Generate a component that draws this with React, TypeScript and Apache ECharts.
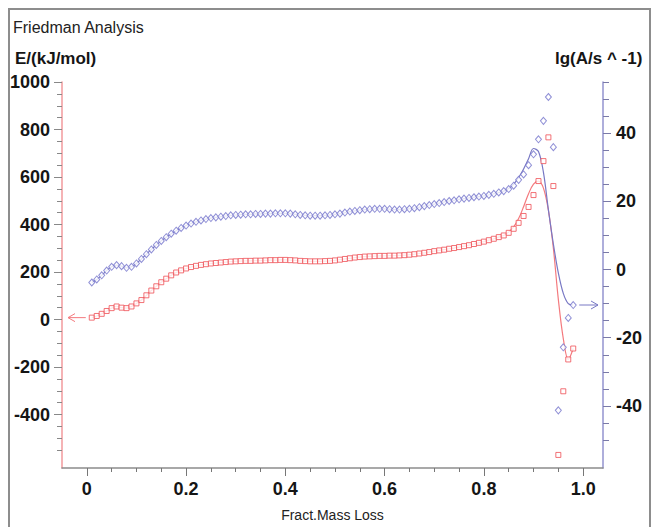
import React, { useEffect, useRef } from "react";
import * as echarts from "echarts";

// Fractional mass loss (x)
const fraction = [
  0.01, 0.02, 0.03, 0.04, 0.05, 0.06, 0.07, 0.08, 0.09, 0.1,
  0.11, 0.12, 0.13, 0.14, 0.15, 0.16, 0.17, 0.18, 0.19, 0.2,
  0.21, 0.22, 0.23, 0.24, 0.25, 0.26, 0.27, 0.28, 0.29, 0.3,
  0.31, 0.32, 0.33, 0.34, 0.35, 0.36, 0.37, 0.38, 0.39, 0.4,
  0.41, 0.42, 0.43, 0.44, 0.45, 0.46, 0.47, 0.48, 0.49, 0.5,
  0.51, 0.52, 0.53, 0.54, 0.55, 0.56, 0.57, 0.58, 0.59, 0.6,
  0.61, 0.62, 0.63, 0.64, 0.65, 0.66, 0.67, 0.68, 0.69, 0.7,
  0.71, 0.72, 0.73, 0.74, 0.75, 0.76, 0.77, 0.78, 0.79, 0.8,
  0.81, 0.82, 0.83, 0.84, 0.85, 0.86, 0.87, 0.88, 0.89, 0.9,
  0.91, 0.92, 0.93, 0.94, 0.95, 0.96, 0.97, 0.98,
];

// Activation energy E/(kJ/mol) — red squares, left axis
const activationEnergy = [
  8, 15, 24, 36, 48, 55, 50, 48, 55, 68,
  82, 102, 122, 140, 157, 172, 186, 198, 207, 215,
  221, 226, 230, 233, 236, 238, 240, 242, 244, 245,
  246, 247, 247, 248, 248, 249, 250, 250, 251, 251,
  250, 249, 247, 246, 245, 245, 245, 246, 247, 249,
  252, 255, 258, 261, 263, 265, 266, 267, 268, 268,
  269, 269, 270, 271, 273, 275, 278, 281, 284, 288,
  291, 294, 298, 301, 305, 309, 313, 318, 323, 328,
  334, 340, 347, 354, 365, 382, 407, 436, 474, 524,
  583, 667, 767, 562, -570, -302, -168, -122,
];

// lg(A/s^-1) — blue diamonds, right axis
const lgA = [
  -3.8, -2.9, -1.7, -0.3, 0.8, 1.3, 1.0, 0.5, 0.8, 1.8,
  3.1, 4.5, 5.9, 7.2, 8.4, 9.5, 10.5, 11.4, 12.2, 12.9,
  13.5, 14.0, 14.4, 14.8, 15.1, 15.3, 15.5, 15.7, 15.9, 16.0,
  16.1, 16.2, 16.2, 16.3, 16.3, 16.4, 16.4, 16.5, 16.5, 16.5,
  16.4, 16.2, 16.0, 15.9, 15.8, 15.8, 15.8, 15.9, 16.0, 16.2,
  16.4, 16.7, 17.0, 17.2, 17.4, 17.6, 17.7, 17.8, 17.8, 17.8,
  17.7, 17.6, 17.6, 17.7, 17.8, 18.0, 18.3, 18.6, 18.9, 19.2,
  19.5, 19.8, 20.1, 20.3, 20.6, 20.8, 21.0, 21.2, 21.4, 21.6,
  21.9, 22.2, 22.6, 23.0, 23.6, 24.6, 26.3, 27.9, 30.6, 33.8,
  38.2, 43.6, 50.6, 35.9, -41.3, -22.8, -14.2, -10.4,
];

// Fitted curves diverge from the points from x = 0.85 onwards
const fitSplit = 84;
const energyFitTail = [368, 390, 425, 475, 530, 570, 583, 553, 460, 300, 85, -80, -168, -122];
const lgAFitTail = [23.8, 25.0, 27.0, 29.5, 32.5, 35.5, 34.6, 28.5, 17.5, 7.5, -1.0, -7.0, -10.0, -10.4];

const xMajor = [0, 0.2, 0.4, 0.6, 0.8, 1.0];
const xMinor = [0.05, 0.1, 0.15, 0.25, 0.3, 0.35, 0.45, 0.5, 0.55, 0.65, 0.7, 0.75, 0.85, 0.9, 0.95];
const eMajor = [-400, -200, 0, 200, 400, 600, 800, 1000];
const eMinor = [
  -550, -500, -450, -350, -300, -250, -150, -100, -50, 50, 100, 150,
  250, 300, 350, 450, 500, 550, 650, 700, 750, 850, 900, 950,
];
const aMajor = [-40, -20, 0, 20, 40];
const aMinor = [-50, -45, -35, -30, -25, -15, -10, -5, 5, 10, 15, 25, 30, 35, 45, 50, 55];

const RED_PT = "#ef4f55";
const RED_LINE = "#f47a7e";
const BLUE_PT = "#7474cc";
const BLUE_LINE = "#7878c4";
const SANS = "'Liberation Sans', Arial, sans-serif";

export default function App() {
  const ref = useRef<HTMLDivElement>(null);

  useEffect(() => {
    if (!ref.current) return;
    const chart = echarts.init(ref.current, undefined, { renderer: "svg" });

    const tickLabel = {
      fontFamily: SANS,
      fontSize: 18,
      fontWeight: "bold" as const,
      color: "#151515",
    };

    const energyPts = fraction.map((x, i) => [x, activationEnergy[i]]);
    const lgAPts = fraction.map((x, i) => [x, lgA[i]]);
    const energyFit = fraction.map((x, i) => [x, i < fitSplit ? activationEnergy[i] : energyFitTail[i - fitSplit]]);
    const lgAFit = fraction.map((x, i) => [x, i < fitSplit ? lgA[i] : lgAFitTail[i - fitSplit]]);

    const plain = (v: number) => String(v);

    chart.setOption({
      animation: false,
      backgroundColor: "#ffffff",
      grid: { left: 62, right: 50, top: 82, bottom: 55, containLabel: false },
      xAxis: [
        {
          type: "value",
          min: -0.05,
          max: 1.04,
          position: "bottom",
          name: "Fract.Mass Loss",
          nameLocation: "middle",
          nameGap: 40,
          nameTextStyle: { fontFamily: SANS, fontSize: 14, color: "#222" },
          axisLine: { show: true, onZero: false, lineStyle: { color: "#8c8c8c", width: 1.5 } },
          axisTick: { show: true, customValues: xMajor, length: 8, lineStyle: { color: "#777" } },
          axisLabel: {
            ...tickLabel,
            customValues: xMajor,
            margin: 12,
            formatter: (v: number) => (v === 0 ? "0" : v.toFixed(1)),
          },
          splitLine: { show: false },
        },
        {
          type: "value",
          min: -0.05,
          max: 1.04,
          position: "bottom",
          axisLine: { show: false, onZero: false },
          axisTick: { show: true, customValues: xMinor, length: 4, lineStyle: { color: "#777" } },
          axisLabel: { show: false },
          splitLine: { show: false },
        },
      ],
      yAxis: [
        {
          type: "value",
          min: -625,
          max: 1000,
          position: "left",
          axisLine: { show: true, onZero: false, lineStyle: { color: "#f29a9d", width: 1.5 } },
          axisTick: { show: true, customValues: eMajor, length: 8, lineStyle: { color: "#888" } },
          axisLabel: { ...tickLabel, customValues: eMajor, margin: 12, formatter: plain },
          splitLine: { show: false },
        },
        {
          type: "value",
          min: -58.2,
          max: 55,
          position: "right",
          axisLine: { show: true, onZero: false, lineStyle: { color: "#9393cf", width: 1.5 } },
          axisTick: { show: true, customValues: aMajor, length: 8, lineStyle: { color: "#7a7aa8" } },
          axisLabel: { ...tickLabel, customValues: aMajor, margin: 13, formatter: plain },
          splitLine: { show: false },
        },
        {
          type: "value",
          min: -625,
          max: 1000,
          position: "left",
          axisLine: { show: false, onZero: false },
          axisTick: { show: true, customValues: eMinor, length: 5, lineStyle: { color: "#888" } },
          axisLabel: { show: false },
          splitLine: { show: false },
        },
        {
          type: "value",
          min: -58.2,
          max: 55,
          position: "right",
          axisLine: { show: false, onZero: false },
          axisTick: { show: true, customValues: aMinor, length: 6, lineStyle: { color: "#7a7aa8" } },
          axisLabel: { show: false },
          splitLine: { show: false },
        },
      ],
      series: [
        {
          name: "E fit",
          type: "line",
          xAxisIndex: 0,
          yAxisIndex: 0,
          data: energyFit,
          smooth: 0.35,
          showSymbol: false,
          lineStyle: { color: RED_LINE, width: 1.2 },
          z: 2,
        },
        {
          name: "lgA fit",
          type: "line",
          xAxisIndex: 0,
          yAxisIndex: 1,
          data: lgAFit,
          smooth: 0.35,
          showSymbol: false,
          lineStyle: { color: BLUE_LINE, width: 1.2 },
          z: 2,
        },
        {
          name: "E",
          type: "scatter",
          xAxisIndex: 0,
          yAxisIndex: 0,
          data: energyPts,
          symbol: "rect",
          symbolSize: [5, 5],
          itemStyle: { color: "#ffffff", borderColor: RED_PT, borderWidth: 1 },
          z: 3,
        },
        {
          name: "lgA",
          type: "scatter",
          xAxisIndex: 0,
          yAxisIndex: 1,
          data: lgAPts,
          symbol: "diamond",
          symbolSize: [6, 7],
          itemStyle: { color: "#ffffff", borderColor: BLUE_PT, borderWidth: 1 },
          z: 3,
        },
      ],
    });

    // Arrows that point each series to its own axis
    const first = chart.convertToPixel({ xAxisIndex: 0, yAxisIndex: 0 }, [fraction[0], activationEnergy[0]]) as number[];
    const lastI = fraction.length - 1;
    const last = chart.convertToPixel({ xAxisIndex: 0, yAxisIndex: 1 }, [fraction[lastI], lgA[lastI]]) as number[];
    const leftEdge = 62;
    const rightEdge = 653 - 50;
    const ry = first[1];
    const by = last[1];

    chart.setOption({
      graphic: [
        {
          type: "rect",
          shape: { x: 9, y: 9, width: 641, height: 600 },
          style: { fill: "none", stroke: "#8d8d8d", lineWidth: 2 },
          silent: true,
        },
        {
          type: "text",
          left: 13,
          top: 19,
          style: { text: "Friedman Analysis", fontFamily: SANS, fontSize: 16, fill: "#222" },
        },
        {
          type: "text",
          left: 15,
          top: 50,
          style: { text: "E/(kJ/mol)", fontFamily: SANS, fontSize: 17, fontWeight: "bold", fill: "#151515" },
        },
        {
          type: "text",
          left: 555,
          top: 50,
          style: { text: "lg(A/s ^ -1)", fontFamily: SANS, fontSize: 17, fontWeight: "bold", fill: "#151515" },
        },
        {
          type: "polyline",
          shape: { points: [[first[0] - 6, ry], [leftEdge + 6, ry]] },
          style: { stroke: RED_LINE, lineWidth: 1, fill: "none" },
        },
        {
          type: "polyline",
          shape: { points: [[leftEdge + 13, ry - 4], [leftEdge + 6, ry], [leftEdge + 13, ry + 4]] },
          style: { stroke: RED_LINE, lineWidth: 1, fill: "none" },
        },
        {
          type: "polyline",
          shape: { points: [[last[0] + 6, by], [rightEdge - 5, by]] },
          style: { stroke: BLUE_LINE, lineWidth: 1, fill: "none" },
        },
        {
          type: "polyline",
          shape: { points: [[rightEdge - 12, by - 4], [rightEdge - 5, by], [rightEdge - 12, by + 4]] },
          style: { stroke: BLUE_LINE, lineWidth: 1, fill: "none" },
        },
      ],
    });

    return () => chart.dispose();
  }, []);

  return (
    <div
      ref={ref}
      style={{ position: "absolute", left: 0, top: 0, width: 653, height: 527, background: "#fff" }}
    />
  );
}
